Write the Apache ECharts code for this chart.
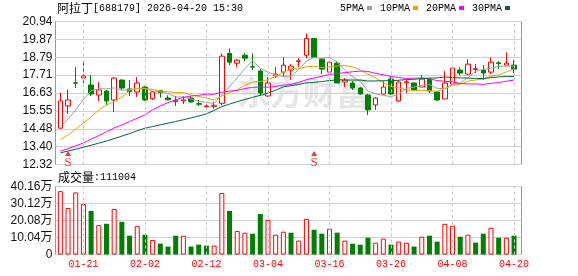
<!DOCTYPE html>
<html><head><meta charset="utf-8">
<script src="https://cdn.jsdelivr.net/npm/echarts@6/dist/echarts.min.js"></script>
<style>html,body{margin:0;padding:0;background:#fff}#c{width:578px;height:276px}</style>
</head><body><div id="c"></div>
<script>
const dates = ['01-16','01-19','01-20','01-21','01-22','01-23','01-26','01-27','01-28','01-29','01-30','02-02','02-03','02-04','02-05','02-06','02-09','02-10','02-11','02-12','02-13','02-24','02-25','02-26','02-27','03-02','03-03','03-04','03-05','03-06','03-09','03-10','03-11','03-12','03-13','03-16','03-17','03-18','03-19','03-20','03-23','03-24','03-25','03-26','03-27','03-30','03-31','04-01','04-02','04-03','04-07','04-08','04-09','04-10','04-13','04-14','04-15','04-16','04-17','04-20'];
const opens  = [14.51,15.85,17.25,17.53,17.11,16.51,16.75,16.21,17.41,16.87,16.69,16.99,16.29,16.79,16.33,16.11,16.15,16.33,15.99,15.81,15.83,16.01,19.02,18.43,18.91,18.21,17.95,16.45,17.65,17.89,18.01,18.53,18.91,19.92,18.67,17.89,18.43,17.29,17.23,16.93,16.51,15.91,16.57,17.47,16.15,17.25,17.23,16.99,17.47,16.69,16.27,17.17,18.01,17.77,18.05,18.01,17.89,18.45,18.31,18.31];
const closes = [16.15,16.21,17.22,17.65,16.57,16.81,16.15,17.53,16.93,16.71,17.23,16.21,16.69,16.65,16.22,16.19,16.21,16.09,15.95,15.85,15.89,18.85,18.49,18.61,18.73,18.19,16.63,17.23,17.77,18.31,18.25,18.57,19.92,18.79,18.07,18.49,17.23,17.41,16.93,16.57,15.61,16.33,16.99,16.57,17.29,17.31,16.81,17.47,16.75,16.21,17.23,18.13,17.83,18.37,18.09,17.83,18.49,18.41,18.43,18.07];
const lows   = [14.48,15.37,16.93,17.23,16.45,16.15,15.91,15.49,16.81,16.45,16.39,16.15,16.21,16.35,16.19,15.85,15.97,16.05,15.85,15.73,15.69,15.89,18.31,18.19,18.55,18.01,16.45,16.39,17.53,17.59,17.41,18.19,18.73,18.79,17.77,17.83,17.23,16.99,16.81,16.53,15.31,15.61,16.53,16.51,16.09,16.63,16.75,16.99,16.63,16.15,16.27,17.11,17.71,17.71,17.83,17.41,17.77,18.07,18.31,17.83];
const highs  = [16.65,16.81,18.19,18.49,17.71,17.29,16.81,17.59,17.45,17.41,17.59,17.05,16.75,16.81,16.49,16.45,16.45,16.45,16.21,16.09,16.11,19.02,19.32,18.67,19.02,19.02,18.07,17.59,18.19,18.79,18.37,18.73,20.22,19.92,18.73,18.61,18.55,17.53,17.35,16.99,16.57,16.39,17.35,17.59,17.41,17.41,17.27,17.71,17.47,16.75,17.95,18.13,18.19,18.67,18.37,18.31,18.79,18.55,19.08,18.61];
const ma5  = [14.61,15.05,15.61,16.25,16.76,16.89,16.88,16.94,16.80,16.83,16.91,16.92,16.75,16.70,16.60,16.39,16.39,16.27,16.13,16.06,16.00,16.53,17.01,17.54,18.11,18.57,18.13,17.88,17.71,17.63,17.64,18.03,18.56,18.77,18.72,18.77,18.50,18.00,17.63,17.33,16.75,16.57,16.49,16.41,16.56,16.90,16.99,17.09,17.13,16.91,16.89,17.16,17.23,17.55,17.93,18.05,18.12,18.24,18.25,18.25];
const ma10 = [13.82,14.10,14.45,14.81,15.20,15.60,15.90,16.12,16.38,16.79,16.90,16.90,16.85,16.75,16.71,16.65,16.66,16.51,16.42,16.33,16.20,16.46,16.64,16.84,17.09,17.29,17.33,17.44,17.62,17.87,18.11,18.08,18.22,18.24,18.17,18.20,18.26,18.28,18.20,18.02,17.76,17.54,17.24,17.02,16.94,16.82,16.78,16.79,16.77,16.73,16.90,17.08,17.16,17.34,17.42,17.47,17.64,17.73,17.90,18.09];
const ma20 = [13.12,13.28,13.44,13.62,13.84,14.06,14.30,14.52,14.71,14.91,15.11,15.31,15.61,15.85,16.05,16.21,16.37,16.45,16.49,16.56,16.55,16.68,16.74,16.79,16.90,16.97,16.99,16.98,17.02,17.10,17.15,17.27,17.43,17.54,17.63,17.75,17.80,17.86,17.91,17.95,17.93,17.81,17.73,17.63,17.56,17.51,17.52,17.54,17.48,17.38,17.33,17.31,17.20,17.18,17.18,17.15,17.21,17.26,17.34,17.41];
const ma30 = [13.02,13.13,13.24,13.36,13.48,13.61,13.74,13.88,14.03,14.19,14.35,14.51,14.61,14.71,14.81,14.91,15.02,15.13,15.25,15.37,15.58,15.81,15.96,16.11,16.24,16.37,16.49,16.62,16.80,17.00,17.07,17.15,17.24,17.27,17.32,17.38,17.42,17.41,17.41,17.41,17.35,17.36,17.37,17.37,17.40,17.44,17.46,17.50,17.53,17.54,17.59,17.56,17.54,17.53,17.51,17.50,17.56,17.60,17.62,17.62];
const volumes = [37.43,27.49,36.65,29.83,25.73,17.35,18.13,26.90,19.30,11.11,16.77,11.70,8.58,6.43,4.68,11.11,11.11,4.68,5.85,5.26,5.26,36.26,25.73,13.84,12.87,12.28,23.98,20.47,11.70,13.45,12.87,8.2,21.1,14.6,12.3,15.2,12.9,8.2,6.4,5.8,9.9,7.0,9.4,5.8,7.6,7.0,4.7,10.5,11.1,7.6,18.1,17.0,10.5,11.7,7.0,12.3,15.8,9.9,9.9,11.1004];
const priceTicks = ['12.32','13.40','14.48','15.55','16.63','17.71','18.79','19.87','20.94'];
const volTicks = ['0','10.04万','20.08万','30.12万','40.16万'];
const labelDates = ['01-21','02-02','02-12','03-04','03-16','03-26','04-08','04-20'];
const signalDates = ['01-19','03-12'];
const maNames = ['5PMA','10PMA','20PMA','30PMA'];
const priceMin = 12.32, priceMax = 20.94, volMax = 40.16;

const RED = '#ff0000', GREEN = '#008000';
const maColors = ['#a0a0a0','#f0a000','#ff00ff','#006a33'];
const maData = [ma5, ma10, ma20, ma30];

const chart = echarts.init(document.getElementById('c'), null, {renderer:'canvas'});
const vline = (grid) => ({
  type:'line', xAxisIndex:grid, yAxisIndex:grid, data: grid===1 ? closes : volumes,
  symbol:'none', lineStyle:{opacity:0}, z:1, silent:true,
  markLine:{silent:true, symbol:['none','none'], animation:false,
    label:{show:false}, lineStyle:{type:[3,3], color:'#c8c8c8', width:1},
    data: labelDates.map(d => ({xAxis:d}))}
});
const axisFont = {color:'#111', fontFamily:'"Liberation Sans", "Noto Sans CJK SC"', fontSize:12, margin:3, showMinLabel:true, showMaxLabel:true};

const option = {
  animation:false,
  grid:[
    {left:55.5, top:21.5, width:466, height:143, show:true, borderColor:'#999', borderWidth:1},
    {left:56.5, top:21.5, width:461.4, height:143},
    {left:55.5, top:186.5, width:466, height:68, show:true, borderColor:'#999', borderWidth:1},
    {left:56.5, top:186.5, width:461.4, height:68}
  ],
  legend:{data:maNames, right:68, top:3, padding:0, icon:'rect', itemWidth:5, itemHeight:4, itemGap:8, align:'right',
    selectedMode:false, textStyle:{fontFamily:'"Liberation Mono"', fontSize:10, color:'#000', padding:[0,-2,0,0]}},
  xAxis:[
    {gridIndex:0, type:'value', show:false, min:0, max:1},
    {gridIndex:1, type:'category', data:dates, boundaryGap:true, show:false},
    {gridIndex:2, type:'value', show:false, min:0, max:1},
    {gridIndex:3, type:'category', data:dates, boundaryGap:true, axisLine:{show:false}, axisTick:{show:false}, splitLine:{show:false},
      axisLabel:{interval:(i, v) => labelDates.includes(v), color:RED, fontFamily:'"Liberation Mono"', fontSize:10, margin:5}}
  ],
  yAxis:[
    {gridIndex:0, type:'value', min:0, max:8, interval:1, axisLine:{show:false}, axisTick:{show:false},
      splitLine:{lineStyle:{color:'#d0d0d0', width:1}}, axisLabel:Object.assign({formatter:v => priceTicks[v]}, axisFont)},
    {gridIndex:1, type:'value', min:priceMin, max:priceMax, show:false, splitLine:{show:false}},
    {gridIndex:2, type:'value', min:0, max:4, interval:1, axisLine:{show:false}, axisTick:{show:false},
      splitLine:{lineStyle:{color:'#d0d0d0', width:1}}, axisLabel:Object.assign({formatter:v => volTicks[v]}, axisFont)},
    {gridIndex:3, type:'value', min:0, max:volMax, show:false, splitLine:{show:false}}
  ],
  graphic:[
    {type:'text', left:237, top:76, z:0, silent:true, style:{text:'东方财富', font:'bold 33px "Noto Sans CJK SC"', fill:'#e6e6e6'}},
    {type:'text', left:57, top:2, style:{text:'{c|阿拉丁}{a|[688179] 2026-04-20 15:30}',
      rich:{c:{fontFamily:'"Noto Sans CJK SC"', fontSize:12, fill:'#000'}, a:{fontFamily:'"Liberation Mono"', fontSize:10, fill:'#000'}}}},
    {type:'text', left:58, top:171, style:{text:'{c|成交量}{a|:' + Math.round(volumes[volumes.length-1]*10000) + '}',
      rich:{c:{fontFamily:'"Noto Sans CJK SC"', fontSize:12, fill:'#000'}, a:{fontFamily:'"Liberation Mono"', fontSize:10, fill:'#000'}}}}
  ],
  series:[
    vline(1),
    vline(3),
    {type:'candlestick', xAxisIndex:1, yAxisIndex:1, barWidth:5, z:3,
      data: dates.map((d,i) => [opens[i], closes[i], lows[i], highs[i]]),
      itemStyle:{color:'#fff', color0:GREEN, borderColor:RED, borderColor0:GREEN, borderWidth:1}},
    ...maNames.map((n,k) => ({name:n, type:'line', xAxisIndex:1, yAxisIndex:1, data:maData[k], symbol:'none', showSymbol:false,
      color:maColors[k], lineStyle:{width:1, color:maColors[k]}, z:4, silent:true})),
    {type:'scatter', xAxisIndex:1, yAxisIndex:1, data: signalDates.map(d => [d, priceMin]), symbol:'triangle', symbolSize:[6,5],
      symbolOffset:[0,-11], itemStyle:{color:RED}, z:5,
      label:{show:true, formatter:'S', position:'bottom', distance:0, color:RED, fontSize:13, fontFamily:'"Liberation Serif"'}},
    {type:'bar', xAxisIndex:3, yAxisIndex:3, barWidth:5, z:3,
      data: volumes.map((v,i) => {
        const up = i === 0 ? closes[i] >= opens[i] : closes[i] >= closes[i-1];
        return {value:v, itemStyle: up ? {color:'#fff', borderColor:RED, borderWidth:1} : {color:GREEN, borderColor:GREEN, borderWidth:0}};
      })}
  ]
};
chart.setOption(option);
</script></body></html>
